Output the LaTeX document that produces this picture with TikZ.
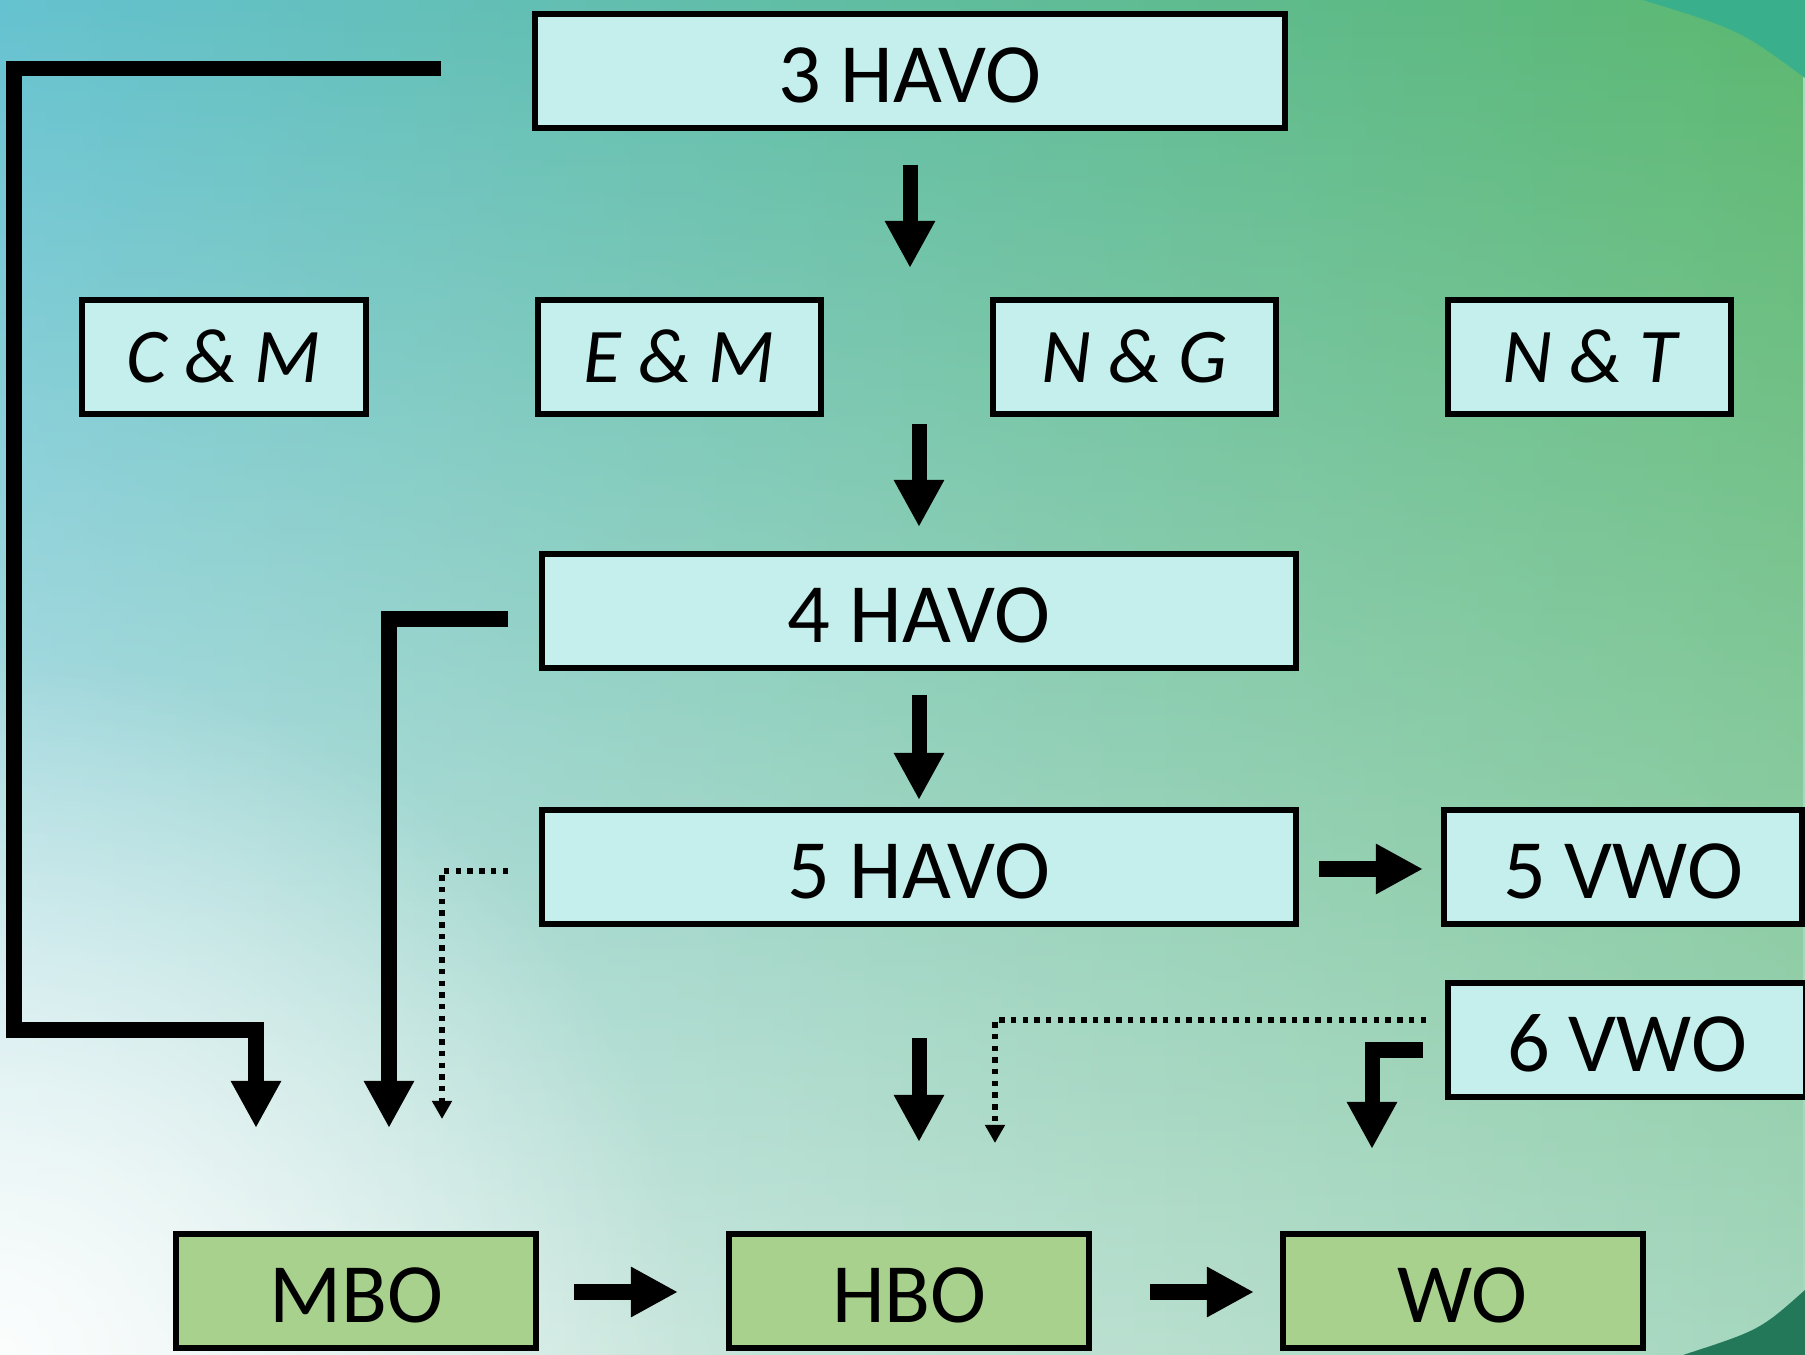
\documentclass[tikz,border=0pt]{standalone}
\usepackage{fontspec}
\setmainfont{Carlito}
\usetikzlibrary{arrows.meta, positioning, fadings}

\definecolor{bgtopleft}{HTML}{65C2D0}
\definecolor{bgtopright}{HTML}{5CB86F}
\definecolor{bgbottomleft}{HTML}{DDEFEE}
\definecolor{bgbottomright}{HTML}{A6D7BF}
\definecolor{cornerteal}{HTML}{3AAF8C}
\definecolor{cornergreen}{HTML}{23785A}
\definecolor{boxblue}{HTML}{C4EFEC}
\definecolor{boxgreen}{HTML}{A9D18E}

\tikzfading[name=glowfade, inner color=transparent!0, outer color=transparent!100]

\begin{document}
\begin{tikzpicture}[
    x=0.01cm, y=-0.01cm,
    node distance=1.66cm,
    box/.style={draw, line width=0.06cm, fill=boxblue, minimum height=1.13cm, inner sep=0pt,
        text height=0.63cm, text depth=0pt, font=\fontsize{24}{28}\selectfont},
    profile/.style={box, minimum width=2.83cm, text height=0.51cm, font=\fontsize{22}{27}\selectfont\itshape},
    exit/.style={box, fill=boxgreen, minimum width=3.6cm},
    arrow/.style={line width=0.15cm, -{Triangle[width=0.47cm, length=0.47cm]}},
    route/.style={line width=0.15cm},
    dotarrow/.style={line width=0.055cm, dash pattern=on 0.055cm off 0.062cm, -{Triangle[width=0.19cm, length=0.18cm]}}
    ]

    % background
    \useasboundingbox (0,0) rectangle (1805,1355);
    \shade[left color=bgbottomleft, right color=bgbottomright] (0,0) rectangle (1805,1355);
    \shade[left color=bgtopleft, right color=bgtopright, path fading=south] (0,0) rectangle (1805,1355);
    \fill[white, fill opacity=0.9, path fading=glowfade] (0,1355) circle (700);
    \fill[cornerteal] (1643,0) .. controls (1740,30) .. (1805,78) -- (1805,0) -- cycle;
    \fill[cornergreen] (1805,1290) .. controls (1760,1330) .. (1683,1355) -- (1805,1355) -- cycle;

    % havo
    \node[box, minimum width=7.50cm] (havo_3) at (910,71) {3 HAVO};
    \node[profile] (cm) at (224,357) {C \& M};
    \node[profile, right=of cm] (em) {E \& M};
    \node[profile, right=of em] (ng) {N \& G};
    \node[profile, right=of ng] (nt) {N \& T};
    \node[box, minimum width=7.54cm] (havo_4) at (919,611) {4 HAVO};
    \node[box, minimum width=7.54cm] (havo_5) at (919,867) {5 HAVO};
    \node[box, minimum width=3.57cm] (vwo_5) at (1623,867) {5 VWO};
    \node[box, minimum width=3.57cm] (vwo_6) at (1627,1040) {6 VWO};

    % vervolg
    \node[exit] (mbo) at (356,1291) {MBO};
    \node[exit, right=1.87cm of mbo] (hbo) {HBO};
    \node[exit, right=1.87cm of hbo] (wo) {WO};

    \coordinate (h3_from) at (910,165);
    \coordinate (h3_to) at (910,268);
    \coordinate (prof_from) at (919,424);
    \coordinate (prof_to) at (919,527);
    \coordinate (h4_from) at (919,695);
    \coordinate (h4_to) at (919,800);
    \coordinate (h5_from) at (919,1038);
    \coordinate (h5_to) at (919,1142);
    \coordinate (vwo_from) at (1319,869);
    \coordinate (vwo_to) at (1423,869);
    \coordinate (mbo_from) at (574,1292);
    \coordinate (mbo_to) at (678,1292);
    \coordinate (hbo_from) at (1150,1292);
    \coordinate (hbo_to) at (1254,1292);

    \coordinate (h3_drop) at (441,69);
    \coordinate (h3_bend) at (14,1030);
    \coordinate (h3_mbo) at (256,1128);
    \coordinate (h4_drop) at (508,619);
    \coordinate (h4_mbo) at (389,1128);
    \coordinate (h5_drop) at (508,871);
    \coordinate (h5_mbo) at (442,1119);
    \coordinate (v6_drop) at (1426,1020);
    \coordinate (v6_hbo) at (995,1143);
    \coordinate (v6_turn) at (1423,1050);
    \coordinate (v6_wo) at (1372,1149);

    \draw[arrow] (h3_from) -- (h3_to);
    \draw[arrow] (prof_from) -- (prof_to);
    \draw[arrow] (h4_from) -- (h4_to);
    \draw[arrow] (h5_from) -- (h5_to);
    \draw[arrow] (vwo_from) -- (vwo_to);
    \draw[arrow] (mbo_from) -- (mbo_to);
    \draw[arrow] (hbo_from) -- (hbo_to);

    \draw[arrow] (h3_drop) -| (h3_bend) -| (h3_mbo);
    \draw[arrow] (h4_drop) -| (h4_mbo);
    \draw[dotarrow] (h5_drop) -| (h5_mbo);
    \draw[dotarrow] (v6_drop) -| (v6_hbo);
    \draw[arrow] (v6_turn) -| (v6_wo);

\end{tikzpicture}
\end{document}
